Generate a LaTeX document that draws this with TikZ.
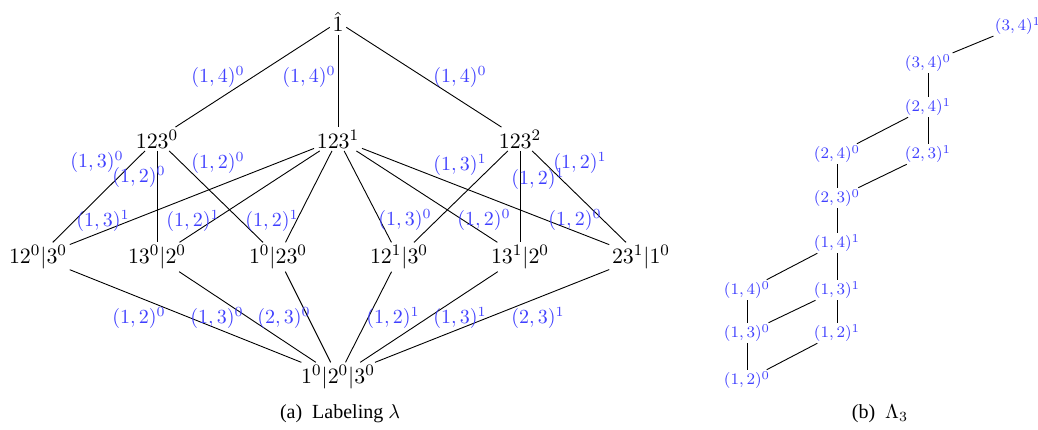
\documentclass[tikz,border=0pt]{standalone}
\usepackage[no-math]{fontspec}
\newfontfamily\capfont{Liberation Serif}
\definecolor{lblue}{RGB}{64,64,255}
\begin{document}
\begin{tikzpicture}[x=0.5pt,y=-0.5pt,
  pn/.style={font=\fontsize{11}{13}\selectfont, inner sep=1.2pt},
  el/.style={font=\fontsize{10}{12}\selectfont, text=lblue, inner sep=0pt},
  ln/.style={font=\fontsize{8.5}{10}\selectfont, text=lblue, inner sep=0.6pt},
  captxt/.style={font=\capfont\fontsize{10}{12}\selectfont, inner sep=0pt},
  conn/.style={draw=black, line width=0.45pt}]
\useasboundingbox (0,0) rectangle (1038,429);
% left poset
\node[pn] (top) at (338,22) {$\hat{1}$};
\node[pn] (a0) at (157,139) {$123^0$};
\node[pn] (a1) at (338,139) {$123^1$};
\node[pn] (a2) at (520,139) {$123^2$};
\node[pn] (b1) at (38,257) {$12^0|3^0$};
\node[pn] (b2) at (157,257) {$13^0|2^0$};
\node[pn] (b3) at (278,257) {$1^0|23^0$};
\node[pn] (b4) at (399,257) {$12^1|3^0$};
\node[pn] (b5) at (520,257) {$13^1|2^0$};
\node[pn] (b6) at (641,257) {$23^1|1^0$};
\node[pn] (bot) at (338,377) {$1^0|2^0|3^0$};
\draw[conn] (top) -- (a0);
\draw[conn] (top) -- (a1);
\draw[conn] (top) -- (a2);
\draw[conn] (a0) -- (b1);
\draw[conn] (a0) -- (b2);
\draw[conn] (a0) -- (b3);
\draw[conn] (a1) -- (b1);
\draw[conn] (a1) -- (b2);
\draw[conn] (a1) -- (b3);
\draw[conn] (a1) -- (b4);
\draw[conn] (a1) -- (b5);
\draw[conn] (a1) -- (b6);
\draw[conn] (a2) -- (b4);
\draw[conn] (a2) -- (b5);
\draw[conn] (a2) -- (b6);
\foreach \b in {b1,b2,b3,b4,b5,b6} \draw[conn] (\b) -- (bot);
% edge labels
\node[el] (l1) at (218,77) {$(1,4)^0$};
\node[el] (l2) at (309,77) {$(1,4)^0$};
\node[el] (l3) at (460,77) {$(1,4)^0$};
\node[el] (l4) at (97,162) {$(1,3)^0$};
\node[el] (l5) at (139,177) {$(1,2)^0$};
\node[el] (l6) at (218,163) {$(1,2)^0$};
\node[el] (l7) at (460,165) {$(1,3)^1$};
\node[el] (l8) at (538,179) {$(1,2)^1$};
\node[el] (l9) at (580,163) {$(1,2)^1$};
\node[el] (l10) at (103,221) {$(1,3)^1$};
\node[el] (l11) at (193,221) {$(1,2)^1$};
\node[el] (l12) at (272,221) {$(1,2)^1$};
\node[el] (l13) at (405,220) {$(1,3)^0$};
\node[el] (l14) at (484,220) {$(1,2)^0$};
\node[el] (l15) at (575,220) {$(1,2)^0$};
\node[el] (l16) at (139,318) {$(1,2)^0$};
\node[el] (l17) at (217,318) {$(1,3)^0$};
\node[el] (l18) at (284,318) {$(2,3)^0$};
\node[el] (l19) at (393,318) {$(1,2)^1$};
\node[el] (l20) at (460,318) {$(1,3)^1$};
\node[el] (l21) at (538,318) {$(2,3)^1$};
% right lattice
\node[ln] (r34b) at (1018,26) {$(3,4)^1$};
\node[ln] (r34a) at (928,63) {$(3,4)^0$};
\node[ln] (r24b) at (928,107) {$(2,4)^1$};
\node[ln] (r24a) at (837,154) {$(2,4)^0$};
\node[ln] (r23b) at (928,154) {$(2,3)^1$};
\node[ln] (r23a) at (837,198) {$(2,3)^0$};
\node[ln] (r14b) at (837,243) {$(1,4)^1$};
\node[ln] (r14a) at (747,290) {$(1,4)^0$};
\node[ln] (r13b) at (837,290) {$(1,3)^1$};
\node[ln] (r13a) at (747,333) {$(1,3)^0$};
\node[ln] (r12b) at (837,333) {$(1,2)^1$};
\node[ln] (r12a) at (747,380) {$(1,2)^0$};
\draw[conn] (r34b) -- (r34a);
\draw[conn] (r34a) -- (r24b);
\draw[conn] (r24b) -- (r24a);
\draw[conn] (r24b) -- (r23b);
\draw[conn] (r24a) -- (r23a);
\draw[conn] (r23b) -- (r23a);
\draw[conn] (r23a) -- (r14b);
\draw[conn] (r14b) -- (r14a);
\draw[conn] (r14b) -- (r13b);
\draw[conn] (r14a) -- (r13a);
\draw[conn] (r13b) -- (r13a);
\draw[conn] (r13b) -- (r12b);
\draw[conn] (r13a) -- (r12a);
\draw[conn] (r12b) -- (r12a);
% captions
\node[captxt] (capa) at (340,414) {(a)\enspace Labeling $\lambda$};
\node[captxt] (capb) at (880,414) {(b)\enspace $\Lambda_3$};
\end{tikzpicture}
\end{document}
